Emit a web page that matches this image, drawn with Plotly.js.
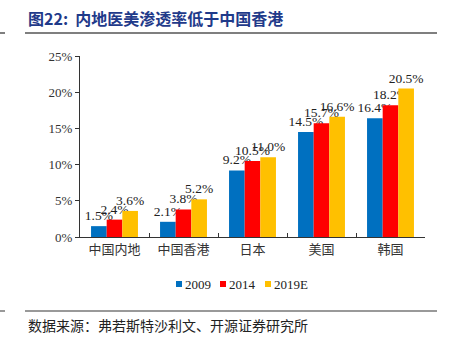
<!DOCTYPE html>
<html>
<head>
<meta charset="utf-8">
<script src="https://cdn.plot.ly/plotly-3.0.1.min.js"></script>
<style>html,body{margin:0;padding:0;background:#fff;}#chart{width:458px;height:346px;}</style>
</head>
<body>
<div id="chart"></div>
<script>
const categories = ["中国内地", "中国香港", "日本", "美国", "韩国"];
const seriesNames = ["2009", "2014", "2019E"];
const values2009 = [1.5, 2.1, 9.2, 14.5, 16.4];
const values2014 = [2.4, 3.8, 10.5, 15.7, 18.2];
const values2019E = [3.6, 5.2, 11.0, 16.6, 20.5];
const colors = ["#0070C0", "#FF0000", "#FFC000"];
const yTicks = [0, 5, 10, 15, 20, 25];

const serif = "Liberation Serif, Times New Roman, Noto Sans CJK SC, serif";
const cjk = "Liberation Serif, Noto Sans CJK SC, sans-serif";

const L = 80, R = 425, T = 56, B = 237;
const px = x => (x - L) / (R - L);
const py = y => (B - y) / (B - T);

const allVals = [values2009, values2014, values2019E];
const traces = [];
allVals.forEach((v, i) => {
  traces.push({
    type: "bar", x: categories, y: v, name: seriesNames[i],
    marker: {color: colors[i], line: {width: 0}},
    text: v.map(d => d.toFixed(1) + "%"), textposition: "outside",
    textfont: {family: serif, size: 13.5, color: "#222"},
    constraintext: "none", cliponaxis: false, showlegend: false,
    hoverinfo: "skip"
  });
});

// manual legend (compact, like the reference)
const legendX = [176, 220, 265];
const legendY = 284;
const legendShapes = seriesNames.map((n, i) => ({
  type: "rect", xref: "paper", yref: "paper",
  x0: px(legendX[i]), x1: px(legendX[i] + 6), y0: py(legendY + 3), y1: py(legendY - 3),
  fillcolor: colors[i], line: {width: 0}
}));
const legendAnn = seriesNames.map((n, i) => ({
  xref: "paper", yref: "paper", x: px(legendX[i] + 7), y: py(legendY), xanchor: "left", yanchor: "middle",
  showarrow: false, text: n, font: {family: serif, size: 13, color: "#222"}
}));

const layout = {
  width: 458, height: 346,
  margin: {l: L, r: 458 - R, t: T, b: 346 - B, pad: 0},
  paper_bgcolor: "#fff", plot_bgcolor: "#fff",
  barmode: "group", bargap: 0.32, bargroupgap: 0,
  showlegend: false,
  xaxis: {
    type: "category", showline: true, linecolor: "#333", linewidth: 1,
    ticks: "inside", ticklen: 4, tickcolor: "#333", tickson: "boundaries",
    tickfont: {family: cjk, size: 13, color: "#333"}, showgrid: false, zeroline: false,
    fixedrange: true
  },
  yaxis: {
    range: [0, 25], tickvals: yTicks, ticktext: yTicks.map(t => t + "%"),
    showline: true, linecolor: "#333", linewidth: 1,
    ticks: "outside", ticklen: 4, tickcolor: "#333",
    tickfont: {family: serif, size: 13, color: "#333"},
    showgrid: false, zeroline: false, fixedrange: true
  },
  shapes: [
    {type: "line", xref: "paper", yref: "paper", x0: px(25), x1: px(437), y0: py(33), y1: py(33), line: {color: "#555", width: 1.5}},
    {type: "line", xref: "paper", yref: "paper", x0: px(0), x1: px(5), y0: py(33), y1: py(33), line: {color: "#555", width: 1.5}},
    {type: "line", xref: "paper", yref: "paper", x0: px(25), x1: px(437), y0: py(311), y1: py(311), line: {color: "#777", width: 1.5}},
    {type: "line", xref: "paper", yref: "paper", x0: px(0), x1: px(5), y0: py(311), y1: py(311), line: {color: "#777", width: 1.5}}
  ].concat(legendShapes),
  annotations: [
    {xref: "paper", yref: "paper", x: px(26), y: py(18), xanchor: "left", yanchor: "middle", showarrow: false,
     text: "<b>图22:&nbsp;&nbsp;内地医美渗透率低于中国香港</b>",
     font: {family: "Noto Sans CJK SC, sans-serif", size: 16, color: "#1F3A8A"}},
    {xref: "paper", yref: "paper", x: px(26), y: py(325), xanchor: "left", yanchor: "middle", showarrow: false,
     text: "数据来源：弗若斯特沙利文、开源证券研究所",
     font: {family: "Noto Sans CJK SC, sans-serif", size: 14, color: "#222"}}
  ].concat(legendAnn)
};

Plotly.newPlot("chart", traces, layout, {displayModeBar: false, staticPlot: true});
</script>
</body>
</html>
